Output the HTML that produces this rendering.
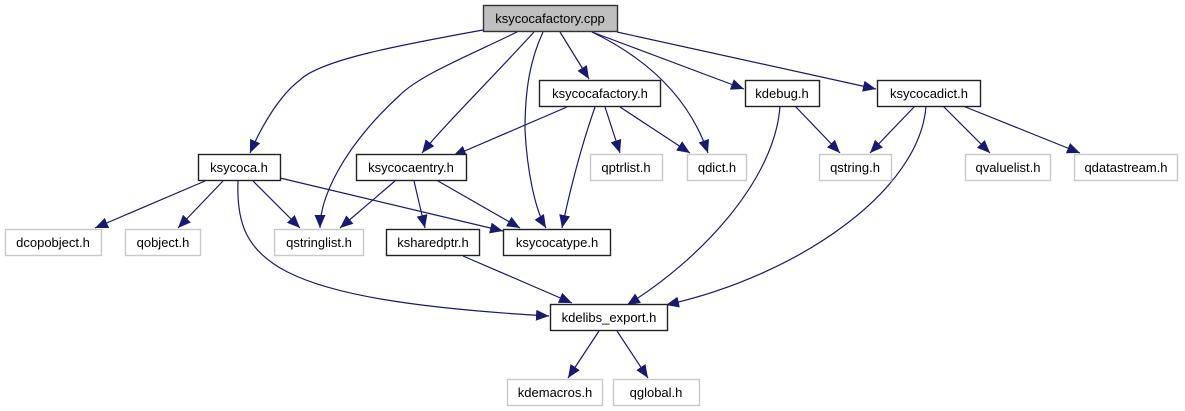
<!DOCTYPE html>
<html><head><meta charset="utf-8"><style>
html,body{margin:0;padding:0;background:#fff;}
svg{display:block;}
text{font-family:"Liberation Sans",sans-serif;font-size:13px;fill:#000;}
</style></head><body>
<svg width="1185" height="411" viewBox="0 0 1185 411" xmlns="http://www.w3.org/2000/svg">
<defs>
<marker id="a" markerUnits="userSpaceOnUse" markerWidth="14" markerHeight="12" refX="13" refY="5.5" orient="auto">
<path d="M0,0 L13,5.5 L0,11 Z" fill="#191970"/>
</marker>
</defs>
<g fill="none" stroke="#191970" stroke-width="1.2" marker-end="url(#a)">
<path d="M483,30 C400,45 320,60 300,80 C280,95 262,125 250,153"/>
<path d="M517,32 C470,55 420,75 400,95 C340,150 320,200 320,228"/>
<path d="M534,32 C490,80 440,130 422,153"/>
<path d="M543,32 C530,60 525,90 525,130 C527,170 535,210 546,228"/>
<path d="M560,32 L589,79"/>
<path d="M592,32 C650,60 690,100 708,153"/>
<path d="M592,32 L744,89"/>
<path d="M617,32 L876,89"/>
<path d="M567,107 L453,156"/>
<path d="M595,107 C580,150 570,190 562,228"/>
<path d="M605,107 L620,153"/>
<path d="M620,107 L690,153"/>
<path d="M795,106 L840,153"/>
<path d="M780,106 C775,180 700,260 627,305"/>
<path d="M915,106 L870,153"/>
<path d="M926,106 C920,190 800,275 666,305"/>
<path d="M943,106 L990,153"/>
<path d="M963,106 L1080,153"/>
<path d="M205,181 L95,228"/>
<path d="M223,181 L178,228"/>
<path d="M253,181 L300,228"/>
<path d="M280,178 L503,231"/>
<path d="M238,181 C235,260 270,300 549,316"/>
<path d="M395,181 L340,228"/>
<path d="M414,181 L425,228"/>
<path d="M438,181 L520,228"/>
<path d="M463,256 L572,303"/>
<path d="M599,331 L568,378"/>
<path d="M617,331 L648,378"/>
</g>
<g stroke-width="1.4">
<rect x="483.5" y="5.5" width="134" height="26" fill="#bfbfbf" stroke="#333"/>
<rect x="539.5" y="80.5" width="121" height="26" fill="#fff" stroke="#222"/>
<rect x="745.5" y="80.5" width="74" height="26" fill="#fff" stroke="#222"/>
<rect x="877.5" y="80.5" width="103" height="26" fill="#fff" stroke="#222"/>
<rect x="198.5" y="154.5" width="82" height="26" fill="#fff" stroke="#222"/>
<rect x="356.5" y="154.5" width="110" height="26" fill="#fff" stroke="#222"/>
<rect x="590.5" y="154.5" width="72" height="26" fill="#fff" stroke="#c8c8c8"/>
<rect x="687.5" y="154.5" width="59" height="26" fill="#fff" stroke="#c8c8c8"/>
<rect x="819.5" y="154.5" width="72" height="26" fill="#fff" stroke="#c8c8c8"/>
<rect x="965.5" y="154.5" width="85" height="26" fill="#fff" stroke="#c8c8c8"/>
<rect x="1074.5" y="154.5" width="103" height="26" fill="#fff" stroke="#c8c8c8"/>
<rect x="5.5" y="229.5" width="96" height="26" fill="#fff" stroke="#c8c8c8"/>
<rect x="125.5" y="229.5" width="75" height="26" fill="#fff" stroke="#c8c8c8"/>
<rect x="274.5" y="229.5" width="89" height="26" fill="#fff" stroke="#c8c8c8"/>
<rect x="386.5" y="229.5" width="93" height="26" fill="#fff" stroke="#222"/>
<rect x="503.5" y="229.5" width="107" height="26" fill="#fff" stroke="#222"/>
<rect x="550.5" y="304.5" width="117" height="26" fill="#fff" stroke="#222"/>
<rect x="507.5" y="379.5" width="95" height="26" fill="#fff" stroke="#c8c8c8"/>
<rect x="613.5" y="379.5" width="86" height="26" fill="#fff" stroke="#c8c8c8"/>
</g>
<g text-anchor="middle">
<text x="550" y="23">ksycocafactory.cpp</text>
<text x="600" y="98">ksycocafactory.h</text>
<text x="782" y="98">kdebug.h</text>
<text x="929" y="98">ksycocadict.h</text>
<text x="239" y="172">ksycoca.h</text>
<text x="411" y="172">ksycocaentry.h</text>
<text x="626" y="172">qptrlist.h</text>
<text x="717" y="172">qdict.h</text>
<text x="855" y="172">qstring.h</text>
<text x="1008" y="172">qvaluelist.h</text>
<text x="1126" y="172">qdatastream.h</text>
<text x="53" y="247">dcopobject.h</text>
<text x="163" y="247">qobject.h</text>
<text x="319" y="247">qstringlist.h</text>
<text x="433" y="247">ksharedptr.h</text>
<text x="557" y="247">ksycocatype.h</text>
<text x="609" y="322">kdelibs_export.h</text>
<text x="555" y="397">kdemacros.h</text>
<text x="656" y="397">qglobal.h</text>
</g>
</svg>
</body></html>
